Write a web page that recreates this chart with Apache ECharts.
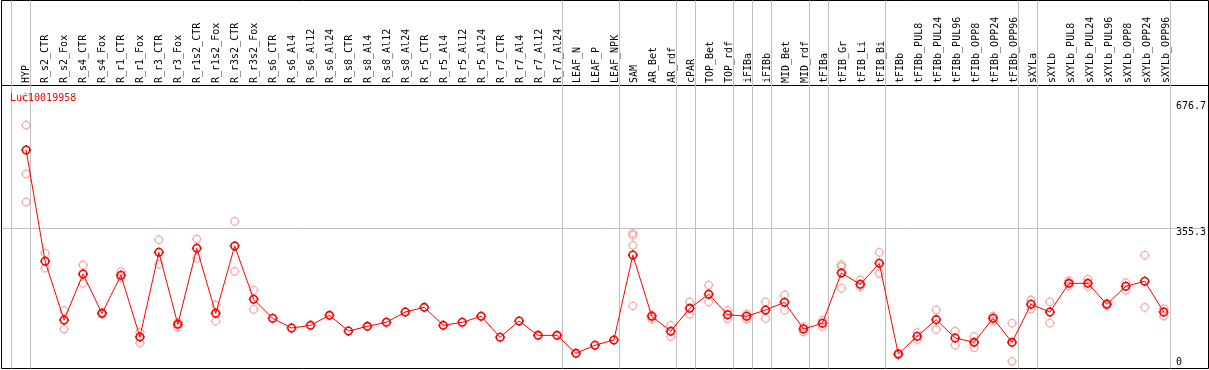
<!DOCTYPE html>
<html>
<head>
<meta charset="utf-8">
<script src="https://cdn.jsdelivr.net/npm/echarts@6/dist/echarts.min.js"></script>
<style>
html,body{margin:0;padding:0;background:#fff;}
#c{width:1209px;height:370px;}
</style>
</head>
<body>
<div id="c"></div>
<script>
const categories = ["HYP","R_s2_CTR","R_s2_Fox","R_s4_CTR","R_s4_Fox","R_r1_CTR","R_r1_Fox","R_r3_CTR","R_r3_Fox","R_r1s2_CTR","R_r1s2_Fox","R_r3s2_CTR","R_r3s2_Fox","R_s6_CTR","R_s6_Al4","R_s6_Al12","R_s6_Al24","R_s8_CTR","R_s8_Al4","R_s8_Al12","R_s8_Al24","R_r5_CTR","R_r5_Al4","R_r5_Al12","R_r5_Al24","R_r7_CTR","R_r7_Al4","R_r7_Al12","R_r7_Al24","LEAF_N","LEAF_P","LEAF_NPK","SAM","AR_Bet","AR_rdf","cPAR","TOP_Bet","TOP_rdf","iFIBa","iFIBb","MID_Bet","MID_rdf","tFIBa","tFIB_Gr","tFIB_Li","tFIB_Bi","tFIBb","tFIBb_PUL8","tFIBb_PUL24","tFIBb_PUL96","tFIBb_OPP8","tFIBb_OPP24","tFIBb_OPP96","sXYLa","sXYLb","sXYLb_PUL8","sXYLb_PUL24","sXYLb_PUL96","sXYLb_OPP8","sXYLb_OPP24","sXYLb_OPP96"];

const means = [554.6,271.4,122.1,239.1,139.1,235.8,78.9,294.3,111.1,304.5,139.1,310.4,174.8,126.4,101.8,108.5,134,94.1,106,116.2,142.5,154.3,108.5,116.2,131.5,78.1,119.6,83.1,83.1,37.3,57.7,71.2,287.5,131.5,93.4,151.8,187.5,135.7,131.5,147.6,167.1,99.2,113.7,241.7,212.9,266.3,35.6,80.6,123,76.3,65.3,126.4,65.3,162,142.5,215.4,215.4,162,207.8,220.5,142.5];

const replicates = [
  [689,618,494,422],[292,254],[146,99],[262,215],[141,137],[245,230],[91,64],[326,264],[116,104],[328,279],[160,119],[373,246],[198,149],
  [],[],[],[],[],[],[],[],[],[],[],[],[],[],[],[],[],[],[],
  [343,338,312,158],[135,125],[109,80],[168,137],[211,168],[146,125],[137,125],[168,126],[186,147],[105,92],[122,105],[263,258,203],[224,207],[294,241],
  [38,33],[90,72],[148,98],[94,58],[80,52],[132,120],[114,17],[173,150],[168,114],[222,209],[226,207],[165,159],[217,198],[287,154],[151,132]
];

const groupEnds = [-1,0,28,31,34,35,37,38,39,41,42,45,52,53,60];
const yTicks = [0,355.3,676.7];
const yGridValues = [355.3];
const seriesName = "Luc10019958";

const SEP_OFFSET = 0.22;
const XMIN = -1.3, XMAX = 62.226;
const MONO = "DejaVu Sans Mono";
const MARK = 'path://M2.5,10A7.5,7.5 0 1,1 17.5,10A7.5,7.5 0 1,1 2.5,10Z M10,0L10,2.5 M10,17.5L10,20 M0,10L2.5,10 M17.5,10L20,10';

const repData = [];
replicates.forEach((arr, i) => arr.forEach(v => repData.push([i, v])));
const meanData = means.map((v, i) => [i, v]);

const chart = echarts.init(document.getElementById('c'), null, {renderer: 'canvas'});
const gridLR = {left: 1.5, right: 0.5};
chart.setOption({
  animation: false,
  backgroundColor: '#fff',
  title: {
    text: seriesName, left: 10, top: 93, padding: 0,
    textStyle: {color: '#ff0000', fontFamily: MONO, fontSize: 10, fontWeight: 'normal'}
  },
  grid: [
    Object.assign({top: 0.5, bottom: 1.5, show: true, borderColor: '#000', borderWidth: 1, backgroundColor: 'transparent'}, gridLR),
    Object.assign({top: 0, height: 85}, gridLR),
    Object.assign({top: 102, bottom: 2}, gridLR)
  ],
  xAxis: [
    {type: 'value', gridIndex: 0, min: XMIN, max: XMAX, show: false},
    {type: 'value', gridIndex: 1, min: XMIN, max: XMAX, position: 'bottom',
     axisLine: {show: true, onZero: false, lineStyle: {color: '#000', width: 1}},
     axisTick: {show: false}, splitLine: {show: false},
     axisLabel: {
       inside: true, rotate: 90, margin: 2, color: '#000', fontFamily: MONO, fontSize: 10,
       customValues: categories.map((c, i) => i),
       formatter: v => categories[Math.round(v)] || ''
     }},
    {type: 'value', gridIndex: 2, min: XMIN, max: XMAX, show: false}
  ],
  yAxis: [
    {type: 'value', gridIndex: 0, min: 0, max: 1, show: false},
    {type: 'value', gridIndex: 1, min: 0, max: 1, show: false},
    {type: 'value', gridIndex: 2, min: 0, max: 676.7, position: 'right',
     axisLine: {show: false}, axisTick: {show: false}, splitLine: {show: false},
     axisLabel: {
       inside: true, margin: 30, align: 'left', verticalAlign: 'middle',
       color: '#000', fontFamily: MONO, fontSize: 10,
       customValues: yTicks,
       formatter: v => (v === 0 ? '{z|0}' : '{n|' + v + '}'),
       rich: {
         n: {padding: [9, 0, 0, 0], fontFamily: MONO, fontSize: 10, color: '#000'},
         z: {padding: [0, 0, 12, 0], fontFamily: MONO, fontSize: 10, color: '#000'}
       }
     }}
  ],
  series: [
    {
      type: 'line', xAxisIndex: 0, yAxisIndex: 0, data: [], silent: true, z: 1,
      markLine: {
        silent: true, symbol: ['none', 'none'], label: {show: false}, animation: false, z: 1,
        lineStyle: {color: '#c0c0c0', width: 1, type: 'solid'},
        emphasis: {disabled: true},
        data: groupEnds.map(e => ({xAxis: e + SEP_OFFSET}))
      }
    },
    {
      type: 'line', xAxisIndex: 2, yAxisIndex: 2, data: [], silent: true, z: 1,
      markLine: {
        silent: true, symbol: ['none', 'none'], label: {show: false}, animation: false, z: 1,
        lineStyle: {color: '#c0c0c0', width: 1, type: 'solid'},
        emphasis: {disabled: true},
        data: yGridValues.map(v => ({yAxis: v}))
      }
    },
    {
      name: seriesName + ' replicates', type: 'scatter', xAxisIndex: 2, yAxisIndex: 2,
      data: repData, symbol: MARK, symbolSize: 10, clip: false, silent: true, z: 3,
      itemStyle: {color: 'none', borderColor: '#f09a9a', borderWidth: 1.3}
    },
    {
      name: seriesName, type: 'line', xAxisIndex: 2, yAxisIndex: 2,
      data: meanData, symbol: MARK, symbolSize: 10, showAllSymbol: true, clip: false, silent: true, z: 4,
      lineStyle: {color: '#ff0000', width: 1},
      itemStyle: {color: 'none', borderColor: '#ff0000', borderWidth: 1.6}
    }
  ]
});
</script>
</body>
</html>
